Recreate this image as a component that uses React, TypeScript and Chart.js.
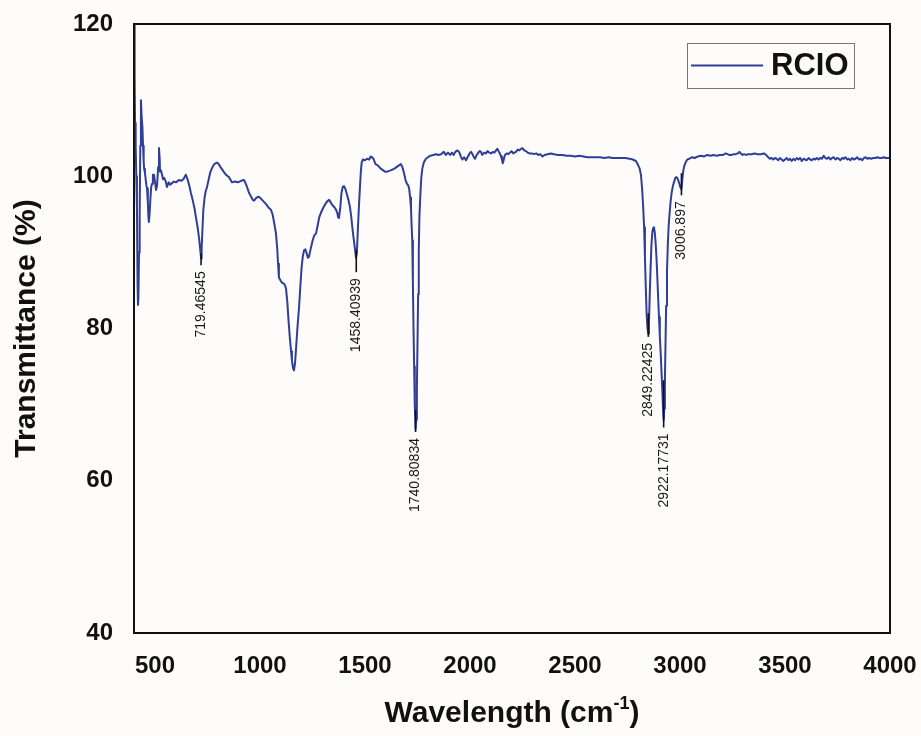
import { useEffect, useRef } from "react";
import { Chart, registerables } from "chart.js";

Chart.register(...registerables);

// ---------- data ----------
const seriesLabel = "RCIO";
const xTitle = "Wavelength (cm";
const xTitleSup = "-1";
const yTitle = "Transmittance (%)";
const xTickValues = [500, 1000, 1500, 2000, 2500, 3000, 3500, 4000];
const yTickValues = [40, 60, 80, 100, 120];

// [wavenumber, transmittance]
const fingerprintRegion: [number, number][] = [
  [400, 122], [403, 113], [405, 107], [408, 104], [411, 100], [414, 96], [417, 86], [419, 83.1],
  [421, 84], [424, 90], [427, 95], [430, 104], [433, 110], [436, 108], [440, 106.5], [443, 104],
  [446, 102], [448, 101], [452, 100.5], [456, 99.5], [459, 98.8], [462, 98.4], [466, 96.5],
  [469, 94.5], [471, 94], [474, 95], [478, 97], [482, 98.6], [486, 99], [490, 100.2], [495, 100.2],
  [500, 99.3], [505, 98.2], [510, 98.8], [515, 101.2], [519, 103.7], [522, 102.5], [524, 100.6],
  [528, 100.8], [533, 100.3], [538, 99.6], [543, 99.8], [550, 99.4], [557, 98.6], [565, 99.2],
  [572, 98.9], [581, 99.1], [590, 99.3], [600, 99.2], [614, 99.5], [625, 99.4], [635, 99.6],
  [647, 100.2], [655, 99.6], [663, 98.8], [671, 97.8], [680, 96.8], [688, 95.8], [695, 94.6],
  [703, 93.3], [710, 91.8], [716, 90.2], [719.5, 89.2], [722, 90.5], [726, 93], [730, 95.5],
  [736, 97.2], [742, 98.1], [748, 98.6], [755, 99.5], [763, 100.5], [772, 101.1], [780, 101.5],
  [788, 101.7], [795, 101.8], [803, 101.6], [812, 101.2], [822, 100.8], [832, 100.4], [842, 100.1],
  [852, 99.9], [860, 99.5], [867, 99.2], [880, 99.3], [895, 99.2], [910, 99.4], [924, 99.5],
  [931, 99.1], [938, 98.6], [948, 97.8], [958, 97.3], [965, 96.9], [972, 96.8], [980, 97.1],
  [990, 97.3],
];

const midRegion: [number, number][] = [
  [1000, 97.2], [1010, 96.9], [1020, 96.6], [1030, 96.3], [1040, 95.9], [1052, 95.6], [1060, 95.0],
  [1068, 93.8], [1076, 92.5], [1082, 90.5], [1086, 88.5], [1090, 86.7], [1098, 86.3], [1106, 86.0],
  [1114, 85.9], [1120, 85.6], [1124, 85.2], [1130, 83.5], [1136, 81], [1142, 78.8], [1148, 77],
  [1152, 75.8], [1157, 74.8], [1162, 74.5], [1167, 75.5], [1172, 77.5], [1178, 80], [1186, 82.8],
  [1192, 85.5], [1198, 88], [1204, 89.5], [1210, 90.3], [1216, 90.4], [1222, 89.9], [1228, 89.3],
  [1233, 89.4], [1240, 90.3], [1250, 91.5], [1258, 92.2], [1267, 92.5], [1275, 93.6], [1282, 94.6],
  [1290, 95.2], [1300, 95.8], [1310, 96.3], [1320, 96.7], [1329, 96.9], [1336, 96.6], [1345, 96.2],
  [1355, 95.9], [1362, 95.6], [1368, 95.2], [1372, 94.6], [1376, 94.5], [1382, 95.8], [1388, 97.8],
  [1394, 98.6], [1400, 98.7], [1407, 98.3], [1414, 97.6], [1422, 96.8], [1428, 96], [1434, 94.8],
  [1440, 93.2], [1446, 91.8], [1452, 90.5], [1457, 89.3], [1461, 89.8], [1466, 93], [1471, 96],
  [1476, 98.6], [1480, 100.5], [1484, 101.8], [1490, 102.2], [1500, 102.1], [1510, 102.3],
  [1520, 102.2], [1527, 102.6], [1533, 102.5], [1540, 102.3], [1550, 101.6], [1557, 101.5],
  [1565, 101.3], [1575, 101], [1585, 100.8], [1595, 100.6], [1605, 100.6], [1615, 100.7],
  [1625, 100.8], [1640, 101], [1655, 101.3], [1665, 101.5], [1671, 101.6], [1678, 101.2],
  [1686, 100.4], [1693, 99.5], [1700, 99.0], [1706, 98.8], [1710, 98.4], [1715, 97.2], [1719, 95.8],
  [1722, 93.5], [1725, 91.6], [1728, 86], [1731, 80], [1734, 75], [1737, 70], [1740.8, 66.8],
  [1744, 68], [1747, 72], [1750, 78], [1753, 84.5], [1756, 90], [1759, 94.6], [1763, 97.2],
  [1768, 99.8], [1773, 101], [1780, 101.8], [1790, 102.3],
];

const plateauRegion: [number, number][] = [
  [1800, 102.5], [1812, 102.7], [1825, 102.8], [1838, 102.9], [1850, 102.8], [1862, 102.9],
  [1875, 103.2], [1885, 102.8], [1895, 103.1], [1905, 102.8], [1914, 103.1], [1922, 102.8],
  [1930, 103.2], [1940, 103.4], [1948, 103.2], [1956, 102.6], [1964, 102.2], [1972, 102.5],
  [1981, 102.1], [1990, 102.6], [1998, 103.0], [2005, 103.2], [2012, 102.9], [2018, 102.5],
  [2024, 102.3], [2032, 102.8], [2040, 103.1], [2046, 103.3], [2052, 103.2], [2058, 102.8],
  [2064, 103.0], [2070, 103.1], [2076, 103.0], [2084, 103.3], [2092, 103.1], [2100, 103.0],
  [2108, 103.2], [2116, 103.1], [2124, 103.4], [2130, 103.6], [2136, 103.3], [2142, 103.0],
  [2148, 102.6], [2152, 102.2], [2156, 101.7], [2160, 102.1], [2165, 102.7], [2170, 102.9],
  [2176, 103.0], [2183, 102.9], [2190, 103.1], [2198, 103.3], [2206, 103.0], [2212, 103.1],
  [2219, 103.2], [2227, 103.5], [2235, 103.4], [2243, 103.6], [2250, 103.7], [2258, 103.4],
  [2267, 103.3], [2275, 103.1], [2283, 103.0], [2295, 103.0], [2305, 102.9], [2315, 103.0],
  [2325, 102.8], [2335, 102.9], [2345, 102.6], [2355, 102.8], [2370, 102.9], [2385, 103.0],
  [2400, 102.9], [2420, 102.8], [2440, 102.8], [2460, 102.7], [2480, 102.7], [2500, 102.6],
  [2520, 102.7], [2540, 102.6], [2560, 102.5], [2580, 102.5], [2600, 102.5], [2620, 102.5],
  [2640, 102.4], [2660, 102.5], [2680, 102.4], [2700, 102.4], [2720, 102.4], [2740, 102.4],
  [2760, 102.3], [2775, 102.2], [2790, 102.0],
];

const chStretchRegion: [number, number][] = [
  [2800, 101.5], [2808, 101.0], [2814, 100.2], [2820, 98.2], [2825, 95.8], [2829, 93.3],
  [2833, 89.5], [2837, 85.5], [2841, 82], [2845, 80.1], [2849.2, 79.3], [2852, 80.5], [2856, 84.5],
  [2860, 88], [2864, 91], [2868, 92.6], [2872, 93.2], [2876, 93.3], [2880, 92.6], [2884, 91.2],
  [2888, 89.3], [2892, 86.8], [2896, 84], [2900, 81.5], [2904, 79], [2908, 76.8], [2912, 74.3],
  [2916, 71.8], [2919, 69.5], [2922.2, 68], [2925, 69.5], [2928, 73], [2931, 78], [2934, 83],
  [2938, 87.5], [2942, 91], [2946, 93.5], [2950, 95], [2955, 96.6], [2960, 97.8], [2966, 98.7],
  [2972, 99.3], [2978, 99.8], [2983, 99.9], [2990, 99.6], [2996, 99.1], [3001, 98.6],
  [3006.9, 98.3], [3011, 99.6], [3016, 100.8], [3021, 101.4], [3028, 101.9], [3035, 102.2],
  [3045, 102.3], [3057, 102.5], [3070, 102.4], [3085, 102.6],
];

const highRegion: [number, number][] = [
  [3100, 102.7], [3115, 102.6], [3130, 102.8], [3145, 102.7], [3160, 102.8], [3175, 102.7],
  [3190, 102.8], [3205, 102.8], [3218, 103.0], [3226, 102.9], [3234, 102.8], [3245, 102.8],
  [3255, 102.9], [3265, 102.9], [3275, 103.0], [3283, 103.2], [3290, 103.0], [3298, 102.8],
  [3306, 102.9], [3315, 102.8], [3325, 102.9], [3340, 102.9], [3355, 103.0], [3370, 102.9],
  [3385, 102.9], [3400, 103.0], [3410, 102.8], [3420, 102.5], [3428, 102.3], [3436, 102.4],
  [3444, 102.2], [3452, 102.4], [3460, 102.3], [3468, 102.1], [3476, 102.4], [3484, 102.2],
  [3492, 102.0], [3500, 102.2], [3508, 102.4], [3516, 102.1], [3524, 102.3], [3532, 102.0],
  [3540, 102.3], [3548, 102.1], [3556, 102.4], [3564, 102.2], [3572, 102.4], [3580, 102.0],
  [3588, 102.3], [3596, 102.2], [3604, 102.1], [3612, 102.4], [3620, 102.2], [3628, 102.1],
  [3636, 102.3], [3644, 102.2], [3652, 102.4], [3660, 102.2], [3668, 102.4], [3676, 102.3],
  [3684, 102.7], [3692, 102.4], [3700, 102.3], [3708, 102.5], [3716, 102.2], [3724, 102.4],
  [3732, 102.5], [3740, 102.2], [3748, 102.4], [3756, 102.3], [3764, 102.1], [3772, 102.4],
  [3780, 102.3], [3788, 102.5], [3796, 102.2], [3804, 102.3], [3812, 102.1], [3820, 102.4],
  [3828, 102.2], [3836, 102.3], [3844, 102.5], [3852, 102.2], [3860, 102.3], [3868, 102.1],
  [3876, 102.4], [3884, 102.5], [3892, 102.3], [3900, 102.4], [3910, 102.3], [3920, 102.4],
  [3930, 102.4], [3940, 102.5], [3950, 102.4], [3960, 102.4], [3970, 102.5], [3980, 102.4],
  [3990, 102.4], [4000, 102.4],
];

const peakWavenumbers = [719.46545, 1458.40939, 1740.80834, 2849.22425, 2922.17731, 3006.897];
const peakLabels = ["719.46545", "1458.40939", "1740.80834", "2849.22425", "2922.17731", "3006.897"];
const peakMarkTop = [89.9, 90.3, 69.3, 82.0, 73.2, 100.4];
const peakMarkBottom = [88.3, 87.4, 66.4, 78.9, 67.0, 97.5];

// ---------- styles ----------
const LINE_COLOR = "#2f3e96";
const FONT = "'Liberation Sans', Arial, Helvetica, sans-serif";
const BG = "#fdfcfb";

const bgPlugin = {
  id: "bgFill",
  beforeDraw(chart: any) {
    const { ctx, width, height } = chart;
    ctx.save();
    ctx.fillStyle = BG;
    ctx.fillRect(0, 0, width, height);
    ctx.restore();
  },
};

const framePlugin = {
  id: "frameAndExtras",
  afterDatasetsDraw(chart: any) {
    const { ctx, chartArea } = chart;
    const xs = chart.scales.x;
    const ys = chart.scales.y;
    ctx.save();
    // peak annotations
    peakWavenumbers.forEach((w, i) => {
      const px = xs.getPixelForValue(w);
      const y1 = ys.getPixelForValue(peakMarkTop[i]);
      const y2 = ys.getPixelForValue(peakMarkBottom[i]);
      ctx.strokeStyle = "#111";
      ctx.lineWidth = 1.6;
      ctx.beginPath();
      ctx.moveTo(px, y1);
      ctx.lineTo(px, y2);
      ctx.stroke();
      ctx.save();
      ctx.translate(px, y2 + 6);
      ctx.rotate(-Math.PI / 2);
      ctx.fillStyle = "#1a1a1a";
      ctx.font = `14px ${FONT}`;
      ctx.textAlign = "right";
      ctx.textBaseline = "middle";
      ctx.fillText(peakLabels[i], 0, 0);
      ctx.restore();
    });
    // frame
    ctx.strokeStyle = "#111";
    ctx.lineWidth = 2;
    ctx.strokeRect(chartArea.left, chartArea.top, chartArea.right - chartArea.left, chartArea.bottom - chartArea.top);
    // legend box
    const lx = 687, ly = 43, lw = 167, lh = 45;
    ctx.fillStyle = BG;
    ctx.fillRect(lx, ly, lw, lh);
    ctx.strokeStyle = "#777";
    ctx.lineWidth = 1;
    ctx.strokeRect(lx + 0.5, ly + 0.5, lw, lh);
    ctx.strokeStyle = LINE_COLOR;
    ctx.lineWidth = 2;
    ctx.beginPath();
    ctx.moveTo(691, 65.5);
    ctx.lineTo(763, 65.5);
    ctx.stroke();
    ctx.fillStyle = "#111";
    ctx.font = `bold 31px ${FONT}`;
    ctx.textAlign = "left";
    ctx.textBaseline = "middle";
    ctx.fillText(chart.data.datasets[0].label, 771, 66);
    ctx.restore();
  },
};

const xTitlePlugin = {
  id: "xTitle",
  afterDraw(chart: any) {
    const { ctx } = chart;
    const xs = chart.scales.x;
    const cx = (xs.left + xs.right) / 2;
    ctx.save();
    ctx.fillStyle = "#111";
    ctx.textBaseline = "alphabetic";
    ctx.font = `bold 30px ${FONT}`;
    const mainW = ctx.measureText(xTitle).width;
    ctx.font = `bold 18px ${FONT}`;
    const supW = ctx.measureText(xTitleSup).width;
    ctx.font = `bold 30px ${FONT}`;
    const closeW = ctx.measureText(")").width;
    const total = mainW + supW + closeW;
    let x = cx - total / 2;
    const base = 722;
    ctx.textAlign = "left";
    ctx.fillText(xTitle, x, base);
    x += mainW;
    ctx.font = `bold 18px ${FONT}`;
    ctx.fillText(xTitleSup, x, base - 13);
    x += supW;
    ctx.font = `bold 30px ${FONT}`;
    ctx.fillText(")", x, base);
    ctx.restore();
  },
};

export default function App() {
  const canvasRef = useRef<HTMLCanvasElement | null>(null);

  useEffect(() => {
    if (!canvasRef.current) return;
    const points = [
      ...fingerprintRegion,
      ...midRegion,
      ...plateauRegion,
      ...chStretchRegion,
      ...highRegion,
    ].map(([x, y]) => ({ x, y }));

    const chart = new Chart(canvasRef.current, {
      type: "line",
      data: {
        datasets: [
          {
            label: seriesLabel,
            data: points,
            borderColor: LINE_COLOR,
            backgroundColor: LINE_COLOR,
            borderWidth: 2,
            pointRadius: 0,
            tension: 0,
            borderJoinStyle: "round",
          },
        ],
      },
      options: {
        animation: false,
        responsive: true,
        maintainAspectRatio: false,
        layout: { padding: { top: 24, right: 31, left: 0, bottom: 0 } },
        plugins: {
          legend: { display: false },
          tooltip: { enabled: false },
        },
        scales: {
          x: {
            type: "linear",
            min: 400,
            max: 4000,
            afterBuildTicks: (axis: any) => {
              axis.ticks = xTickValues.map((v) => ({ value: v }));
            },
            afterFit: (scale: any) => {
              scale.height = 103;
              scale.paddingLeft = 0;
              scale.paddingRight = 0;
            },
            grid: { display: false, drawTicks: false },
            border: { display: false },
            ticks: {
              padding: 19,
              maxRotation: 0,
              autoSkip: false,
              color: "#111",
              font: { family: FONT, size: 24, weight: "bold" },
              callback: (v: any) => String(v),
            },
            title: { display: false },
          },
          y: {
            min: 40,
            max: 120,
            afterBuildTicks: (axis: any) => {
              axis.ticks = yTickValues.map((v) => ({ value: v }));
            },
            afterFit: (scale: any) => {
              scale.width = 134;
              scale.paddingTop = 0;
              scale.paddingBottom = 0;
            },
            grid: { display: false, drawTicks: false },
            border: { display: false },
            ticks: {
              padding: 21,
              color: "#111",
              font: { family: FONT, size: 24, weight: "bold" },
              callback: (v: any) => String(v),
            },
            title: {
              display: true,
              text: yTitle,
              color: "#111",
              font: { family: FONT, size: 30, weight: "bold" },
              padding: { top: 9, bottom: 0 },
            },
          },
        },
      },
      plugins: [bgPlugin, framePlugin, xTitlePlugin],
    } as any);

    return () => chart.destroy();
  }, []);

  return (
    <div style={{ position: "fixed", left: 0, top: 0, width: 921, height: 736, background: BG }}>
      <canvas ref={canvasRef} />
    </div>
  );
}
